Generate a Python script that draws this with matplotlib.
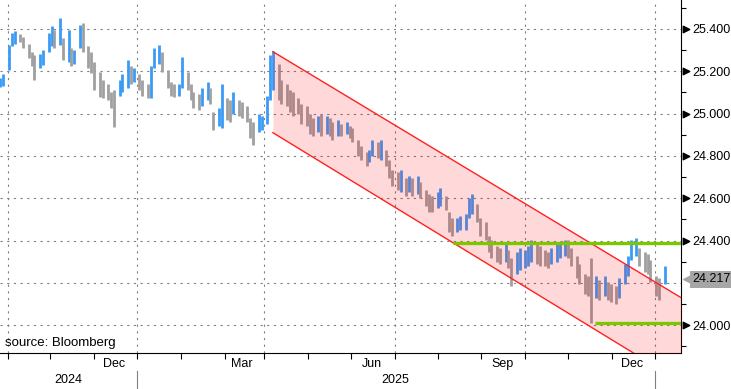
import matplotlib
matplotlib.use("Agg")
import matplotlib.pyplot as plt
import matplotlib.dates as mdates
import matplotlib.transforms as mtransforms
import numpy as np
import pandas as pd

plt.rcParams["font.family"] = ["Liberation Sans", "DejaVu Sans"]
plt.rcParams["font.size"] = 9

# price bars, one every second business day from this date
bar_start = "2024-08-27"
highs = [
    25.168, 25.187, 25.324, 25.381, 25.391, 25.376, 25.362, 25.329, 25.291, 25.277,
    25.282, 25.301, 25.381, 25.414, 25.395, 25.452, 25.357, 25.395, 25.310, 25.301,
    25.419, 25.428, 25.320, 25.291, 25.244, 25.197, 25.159, 25.140, 25.102, 25.112,
    25.159, 25.187, 25.254, 25.225, 25.216, 25.187, 25.159, 25.140, 25.225, 25.310,
    25.324, 25.291, 25.206, 25.150, 25.140, 25.140, 25.268, 25.197, 25.140, 25.102,
    25.093, 25.121, 25.150, 25.121, 25.008, 25.027, 25.140, 25.074, 25.065, 25.102,
    25.065, 25.055, 25.036, 24.979, 24.961, 24.998, 24.989, 25.083, 25.277, 25.296,
    25.235, 25.159, 25.140, 25.112, 25.102, 25.074, 25.046, 25.036, 24.998, 24.979,
    24.989, 24.998, 24.989, 24.979, 24.961, 24.970, 24.951, 24.961, 24.942, 24.932,
    24.876, 24.847, 24.819, 24.828, 24.876, 24.866, 24.876, 24.828, 24.781, 24.734,
    24.724, 24.734, 24.696, 24.705, 24.696, 24.705, 24.677, 24.639, 24.620, 24.611,
    24.630, 24.649, 24.611, 24.535, 24.507, 24.507, 24.516, 24.526, 24.601, 24.620,
    24.573, 24.507, 24.488, 24.422, 24.403, 24.375, 24.365, 24.384, 24.356, 24.318,
    24.346, 24.365, 24.356, 24.375, 24.403, 24.384, 24.375, 24.356, 24.346, 24.365,
    24.384, 24.394, 24.403, 24.403, 24.365, 24.327, 24.290, 24.242, 24.233, 24.318,
    24.233, 24.214, 24.233, 24.205, 24.195, 24.186, 24.223, 24.290, 24.327, 24.403,
    24.412, 24.365, 24.346, 24.337, 24.309, 24.233, 24.223, 24.280,
]
lows = [
    25.126, 25.131, 25.206, 25.320, 25.329, 25.339, 25.310, 25.263, 25.225, 25.159,
    25.216, 25.230, 25.291, 25.320, 25.310, 25.324, 25.254, 25.244, 25.225, 25.235,
    25.310, 25.291, 25.216, 25.192, 25.112, 25.079, 25.074, 25.065, 25.027, 24.937,
    25.083, 25.102, 25.121, 25.140, 25.150, 25.112, 25.083, 25.074, 25.074, 25.216,
    25.235, 25.197, 25.121, 25.083, 25.079, 25.083, 25.121, 25.112, 25.065, 25.027,
    25.017, 25.036, 25.065, 25.046, 24.923, 24.942, 24.932, 24.970, 24.961, 24.998,
    24.989, 24.979, 24.961, 24.885, 24.852, 24.913, 24.923, 24.951, 25.065, 25.112,
    25.065, 25.046, 25.036, 25.008, 24.989, 24.998, 24.951, 24.942, 24.904, 24.894,
    24.913, 24.894, 24.904, 24.894, 24.876, 24.894, 24.894, 24.904, 24.885, 24.866,
    24.800, 24.781, 24.753, 24.772, 24.800, 24.790, 24.781, 24.753, 24.696, 24.658,
    24.639, 24.630, 24.611, 24.630, 24.611, 24.620, 24.601, 24.564, 24.535, 24.535,
    24.554, 24.564, 24.545, 24.441, 24.422, 24.441, 24.450, 24.450, 24.507, 24.526,
    24.488, 24.422, 24.403, 24.346, 24.318, 24.299, 24.290, 24.299, 24.271, 24.186,
    24.242, 24.261, 24.271, 24.280, 24.299, 24.290, 24.280, 24.280, 24.271, 24.290,
    24.299, 24.318, 24.327, 24.318, 24.280, 24.223, 24.195, 24.148, 24.138, 24.011,
    24.129, 24.120, 24.138, 24.120, 24.110, 24.101, 24.129, 24.195, 24.233, 24.309,
    24.327, 24.280, 24.252, 24.242, 24.205, 24.138, 24.120, 24.195,
]
last_price = 24.217

# falling channel
channel_dates = ["2025-03-07", "2025-12-20"]
channel_upper = [25.293, 24.129]
channel_lower = [24.910, 23.730]

# horizontal support / resistance lines
level_values = [24.39, 24.01]
level_starts = ["2025-07-12", "2025-10-20"]

x_range = ["2024-08-26 17:00", "2025-12-19 14:00"]
y_range = [23.869, 25.537]
quarter_lines = ["2024-09-01", "2024-12-01", "2025-03-01", "2025-06-01", "2025-09-01", "2025-12-01"]
month_names = ["Dec", "Mar", "Jun", "Sep", "Dec"]
year_names = ["2024", "2025"]
year_breaks = ["2024-12-01", "2025-12-01"]

blue = "#3a9bf7"
grey = "#a0a0a0"

fig = plt.figure(figsize=(7.31, 3.89), dpi=100)
ax = fig.add_axes([0, 36 / 389, 681 / 731, 353 / 389])

dates = pd.bdate_range(start=bar_start, periods=len(highs), freq="2B")
highs = np.array(highs)
lows = np.array(lows)
mids = (highs + lows) / 2
up = np.r_[True, mids[1:] >= mids[:-1]]
colors = [blue if u else grey for u in up]
ax.vlines(dates, lows, highs, colors=colors, linewidth=2.0, zorder=2)

cd = pd.to_datetime(channel_dates)
ax.fill_between(cd, channel_lower, channel_upper, color="red", alpha=0.15,
                linewidth=0, zorder=3)
ax.plot(cd, channel_upper, color="#ff2020", linewidth=1.0, zorder=4)
ax.plot(cd, channel_lower, color="#ff2020", linewidth=1.0, zorder=4)

xmin, xmax = pd.to_datetime(x_range)
for val, start in zip(level_values, level_starts):
    ax.plot([pd.Timestamp(start), xmax], [val, val], color="#7cc800",
            linewidth=2.4, solid_capstyle="butt", zorder=5)

ax.set_xlim(xmin, xmax)
ax.set_ylim(*y_range)

# grid
grid_kw = dict(color="#808080", linewidth=0.8, linestyle=(0, (2, 4)), zorder=1)
for d in quarter_lines:
    ax.axvline(pd.Timestamp(d), **grid_kw)
yticks = np.arange(24.0, 25.41, 0.2)
for v in yticks:
    ax.axhline(v, **grid_kw)

# spines
for s in ["left", "top"]:
    ax.spines[s].set_visible(False)
for s in ["right", "bottom"]:
    ax.spines[s].set_linewidth(0.8)
    ax.spines[s].set_color("black")

# right axis
ax.yaxis.tick_right()
ax.set_yticks(yticks)
ax.set_yticklabels(["" if abs(v - last_price) < 0.05 else f"{v:.3f}" for v in yticks])
ax.set_yticks(np.arange(23.9, 25.55, 0.2), minor=True)
ax.tick_params(axis="y", which="major", length=0, pad=8, labelsize=9)
ax.tick_params(axis="y", which="minor", length=3.5, width=0.8, direction="out")

tri = mtransforms.offset_copy(ax.get_yaxis_transform(), fig=fig, x=5, y=0, units="dots")
marked = [v for v in yticks if abs(v - last_price) >= 0.05]
ax.scatter([1] * len(marked), marked, transform=tri, marker=">", s=22,
           color="black", clip_on=False, zorder=6)

# last price tag
tag = mtransforms.offset_copy(ax.get_yaxis_transform(), fig=fig, x=11, y=0, units="dots")
ax.text(1, last_price, f"{last_price:.3f}", transform=tag, ha="left", va="center",
        fontsize=9, bbox=dict(boxstyle="square,pad=0.2", fc="#a6a6a6", ec="none"),
        clip_on=False, zorder=7)
arrow = mtransforms.offset_copy(ax.get_yaxis_transform(), fig=fig, x=8, y=0, units="dots")
ax.scatter([1], [last_price], transform=arrow, marker="<", s=70, color="#a6a6a6",
           clip_on=False, zorder=6)

# bottom axis
ax.xaxis.set_major_locator(mdates.MonthLocator())
ax.xaxis.set_major_formatter(plt.NullFormatter())
ax.tick_params(axis="x", which="major", length=4, width=0.8, direction="out")

xt = ax.get_xaxis_transform()
for name, d in zip(month_names, quarter_lines[1:]):
    ax.text(pd.Timestamp(d) - pd.Timedelta(days=16), -0.032, name, transform=xt,
            ha="center", va="center", fontsize=9)

edges = [xmin] + [pd.Timestamp(d) for d in year_breaks]
for name, a, b in zip(year_names, edges[:-1], edges[1:]):
    ax.text(a + (b - a) / 2, -0.077, name, transform=xt, ha="center", va="center",
            fontsize=9)
for d in year_breaks:
    ax.plot([pd.Timestamp(d)] * 2, [-0.051, -0.11], transform=xt, color="#808080",
            linewidth=0.8, clip_on=False)

ax.text(0.008, 0.012, "source: Bloomberg", transform=ax.transAxes, ha="left",
        va="bottom", fontsize=9.5)

fig.savefig("out.png", dpi=100)
